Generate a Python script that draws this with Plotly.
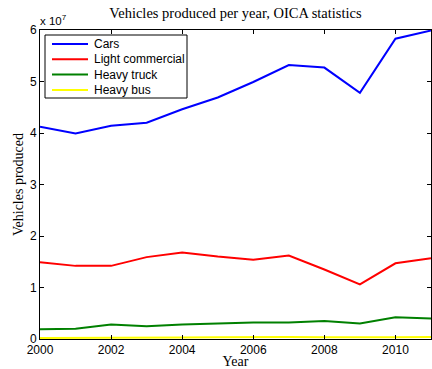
import plotly.graph_objects as go

years = list(range(2000, 2012))
cars = [41.2e6, 39.9e6, 41.4e6, 42.0e6, 44.6e6, 46.9e6, 49.9e6, 53.2e6, 52.7e6, 47.8e6, 58.3e6, 59.9e6]
light_commercial = [14.9e6, 14.2e6, 14.2e6, 15.9e6, 16.8e6, 16.0e6, 15.4e6, 16.2e6, 13.5e6, 10.6e6, 14.7e6, 15.7e6]
heavy_truck = [1.9e6, 2.0e6, 2.8e6, 2.5e6, 2.8e6, 3.0e6, 3.2e6, 3.2e6, 3.5e6, 3.0e6, 4.2e6, 4.0e6]
heavy_bus = [0.20e6, 0.20e6, 0.22e6, 0.25e6, 0.30e6, 0.35e6, 0.40e6, 0.40e6, 0.35e6, 0.30e6, 0.35e6, 0.40e6]

series_names = ["Cars", "Light commercial", "Heavy truck", "Heavy bus"]
series_colors = ["#0000ff", "#ff0000", "#008000", "#ffff00"]

y_tickvals = [0, 1e7, 2e7, 3e7, 4e7, 5e7, 6e7]
y_ticktext = ["0", "1", "2", "3", "4", "5", "6"]
x_tickvals = [2000, 2002, 2004, 2006, 2008, 2010]
x_ticktext = ["2000", "2002", "2004", "2006", "2008", "2010"]

fig = go.Figure()
for name, vals, col in zip(series_names, [cars, light_commercial, heavy_truck, heavy_bus], series_colors):
    fig.add_trace(go.Scatter(x=years, y=vals, mode="lines", name=name,
                             line=dict(color=col, width=2), showlegend=False))

sans = "Liberation Sans, Arial, sans-serif"
serif = "Liberation Serif, Times New Roman, serif"

# Compact MATLAB-style legend box (paper coordinates of the plot area)
W, H = 391.0, 309.0  # plot area size in px
def px(dx):
    return dx / W
def py(dy):
    return 1 - dy / H

shapes = [dict(type="rect", xref="paper", yref="paper",
               x0=px(5), x1=px(147), y0=py(68), y1=py(5),
               line=dict(color="black", width=1), fillcolor="white", layer="above")]
annotations = []
row_h = 15.3
for i, (name, col) in enumerate(zip(series_names, series_colors)):
    yc = py(14 + i * row_h)
    shapes.append(dict(type="line", xref="paper", yref="paper",
                       x0=px(12), x1=px(48), y0=yc, y1=yc,
                       line=dict(color=col, width=2), layer="above"))
    annotations.append(dict(text=name, xref="paper", yref="paper", x=px(52), y=yc,
                            xanchor="left", yanchor="middle", showarrow=False,
                            font=dict(family=sans, size=12, color="black")))

annotations.append(dict(text="x 10<sup>7</sup>", xref="paper", yref="paper", x=-0.005, y=1,
                        xanchor="left", yanchor="bottom", yshift=1, showarrow=False,
                        font=dict(family=sans, size=11.5, color="black")))

fig.update_layout(
    width=432, height=369,
    margin=dict(l=40, r=1, t=30, b=30, autoexpand=False),
    paper_bgcolor="white", plot_bgcolor="white",
    showlegend=False,
    title=dict(text="Vehicles produced per year, OICA statistics",
               font=dict(family=serif, size=14.5, color="black"),
               xref="container", yref="container",
               x=(40 + 431) / 2 / 432, xanchor="center", y=1 - 13 / 369, yanchor="middle",
               automargin=False),
    xaxis=dict(range=[2000, 2011], tickvals=x_tickvals, ticktext=x_ticktext,
               ticks="inside", ticklen=4, tickcolor="black", automargin=False,
               showline=True, linecolor="black", linewidth=1, mirror="ticks",
               showgrid=False, zeroline=False,
               tickfont=dict(family=sans, size=12, color="black"),
               title=dict(text="Year", font=dict(family=serif, size=14, color="black"), standoff=0)),
    yaxis=dict(range=[0, 6e7], tickvals=y_tickvals, ticktext=y_ticktext,
               ticks="inside", ticklen=4, tickcolor="black", automargin=False,
               showline=True, linecolor="black", linewidth=1, mirror="ticks",
               showgrid=False, zeroline=False,
               tickfont=dict(family=sans, size=12, color="black"),
               title=dict(text="Vehicles produced", font=dict(family=serif, size=14, color="black"), standoff=3)),
    shapes=shapes,
    annotations=annotations,
)

fig.write_html("out.html", config={"displayModeBar": False},
               post_script="document.body.style.margin='0';document.body.style.overflow='hidden';")
